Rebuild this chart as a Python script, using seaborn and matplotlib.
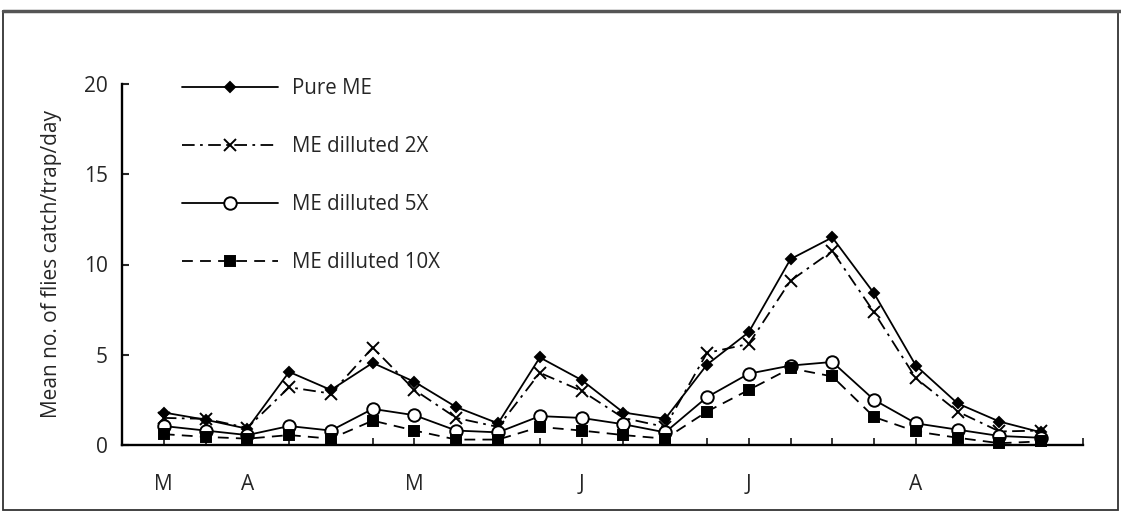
import numpy as np
import pandas as pd
import seaborn as sns
import matplotlib
matplotlib.use("Agg")
import matplotlib.pyplot as plt
from matplotlib.patches import Rectangle

# sampling dates (index along the season) and month labels
sample_idx = list(range(22))
month_labels = ["M", "A", "M", "J", "J", "A"]
month_idx = [0, 2, 6, 10, 14, 18]

# mean no. of flies catch/trap/day
pure_me = [1.8, 1.4, 0.9, 4.05, 3.05, 4.55, 3.5, 2.1, 1.2, 4.85, 3.6, 1.8, 1.45, 4.45, 6.25, 10.3, 11.5, 8.4, 4.4, 2.3, 1.3, 0.7]
me_2x = [1.5, 1.45, 0.95, 3.2, 2.85, 5.4, 3.05, 1.5, 1.0, 4.0, 3.0, 1.5, 1.0, 5.1, 5.6, 9.1, 10.75, 7.35, 3.7, 1.85, 0.75, 0.8]
me_5x = [1.05, 0.8, 0.55, 1.05, 0.8, 2.0, 1.65, 0.8, 0.7, 1.6, 1.5, 1.15, 0.7, 2.65, 3.95, 4.4, 4.6, 2.5, 1.2, 0.85, 0.5, 0.4]
me_10x = [0.6, 0.45, 0.35, 0.55, 0.35, 1.35, 0.8, 0.3, 0.3, 1.0, 0.8, 0.55, 0.35, 1.85, 3.05, 4.25, 3.8, 1.55, 0.75, 0.4, 0.1, 0.2]

series_names = ["Pure ME", "ME dilluted 2X", "ME dilluted 5X", "ME dilluted 10X"]

styles = {
    "Pure ME": dict(marker="D", ms=5, mfc="black", dashes=None),
    "ME dilluted 2X": dict(marker="x", ms=8, mfc="black", dashes=(7, 3, 1.5, 3)),
    "ME dilluted 5X": dict(marker="o", ms=9, mfc="white", dashes=None),
    "ME dilluted 10X": dict(marker="s", ms=7, mfc="black", dashes=(6, 4)),
}

sns.set_style("white")
plt.rcParams["font.family"] = ["Open Sans", "DejaVu Sans"]

fig = plt.figure(figsize=(11.21, 5.13), dpi=100)
ax = fig.add_axes([122 / 1121, 1 - 445 / 513, (1083 - 122) / 1121, (445 - 84) / 513])

for name, values in zip(series_names, [pure_me, me_2x, me_5x, me_10x]):
    st = styles[name]
    df = pd.DataFrame({"x": sample_idx, "y": values})
    kw = dict(color="black", lw=1.3, marker=st["marker"], markersize=st["ms"],
              markerfacecolor=st["mfc"], markeredgecolor="black", markeredgewidth=1.4,
              clip_on=False, label=name)
    sns.lineplot(data=df, x="x", y="y", ax=ax, **kw)
    ln = ax.lines[-1]
    if st["dashes"] is not None:
        ln.set_dashes(st["dashes"])
    else:
        ln.set_linestyle("-")

ax.set_xlim(-1, 22)
ax.set_ylim(0, 20)
sns.despine(ax=ax)
for s in ["left", "bottom"]:
    ax.spines[s].set_linewidth(1.7)
    ax.spines[s].set_color("black")

ax.set_yticks([0, 5, 10, 15, 20])
ax.tick_params(axis="y", direction="in", length=5, width=1.5, pad=10, labelsize=15, left=True)

ax.set_xticks(sample_idx + [22])
xlabels = [""] * 23
for i, lab in zip(month_idx, month_labels):
    xlabels[i] = lab
ax.set_xticklabels(xlabels)
ax.tick_params(axis="x", direction="in", length=5, width=1.3, pad=21, labelsize=15, bottom=True)

ax.set_xlabel("")
ax.set_ylabel("Mean no. of flies catch/trap/day", fontsize=15)
ax.yaxis.set_label_coords(-0.0624, 0.5)

leg = ax.legend(loc="upper left", bbox_to_anchor=(182 / 1121, 1 - 78 / 513),
                bbox_transform=fig.transFigure, frameon=False, fontsize=14.8,
                handlelength=4.67, handletextpad=0.68, labelspacing=1.8,
                borderpad=0, borderaxespad=0, numpoints=1)

# scanned figure frame
fig.patches.append(Rectangle((3 / 1121, 3 / 513), 1115 / 1121, 499 / 513,
                             transform=fig.transFigure, fill=False, lw=1.3,
                             edgecolor="#333333"))
fig.lines.append(plt.Line2D([3 / 1121, 1], [1 - 11 / 513, 1 - 11 / 513],
                            transform=fig.transFigure, color="#555555", lw=2.5))

fig.savefig("out.png", dpi=100, facecolor="white")
